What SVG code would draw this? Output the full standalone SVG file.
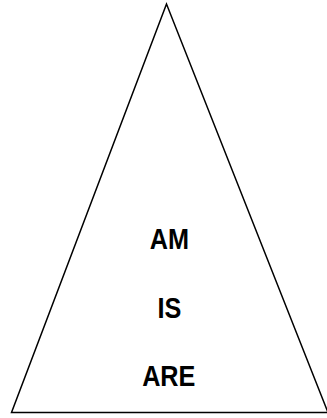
<svg xmlns="http://www.w3.org/2000/svg" width="327" height="418" viewBox="0 0 327 418">
<style>
.t{font-family:"Liberation Sans",Arial,sans-serif;font-weight:bold;font-size:29px;fill:#000;text-anchor:middle}
</style>
<rect width="327" height="418" fill="#fff"/>
<g id="triangle">
<polygon points="166.5,4 11.5,412.5 328,412.5" fill="#fff" stroke="#000" stroke-width="1.5"/>
</g>
<g id="labels" transform="scale(0.87,1)">
<text class="t" x="194.8" y="249">AM</text>
<text class="t" x="194.8" y="318.3">IS</text>
<text class="t" x="194" y="386">ARE</text>
</g>
</svg>
